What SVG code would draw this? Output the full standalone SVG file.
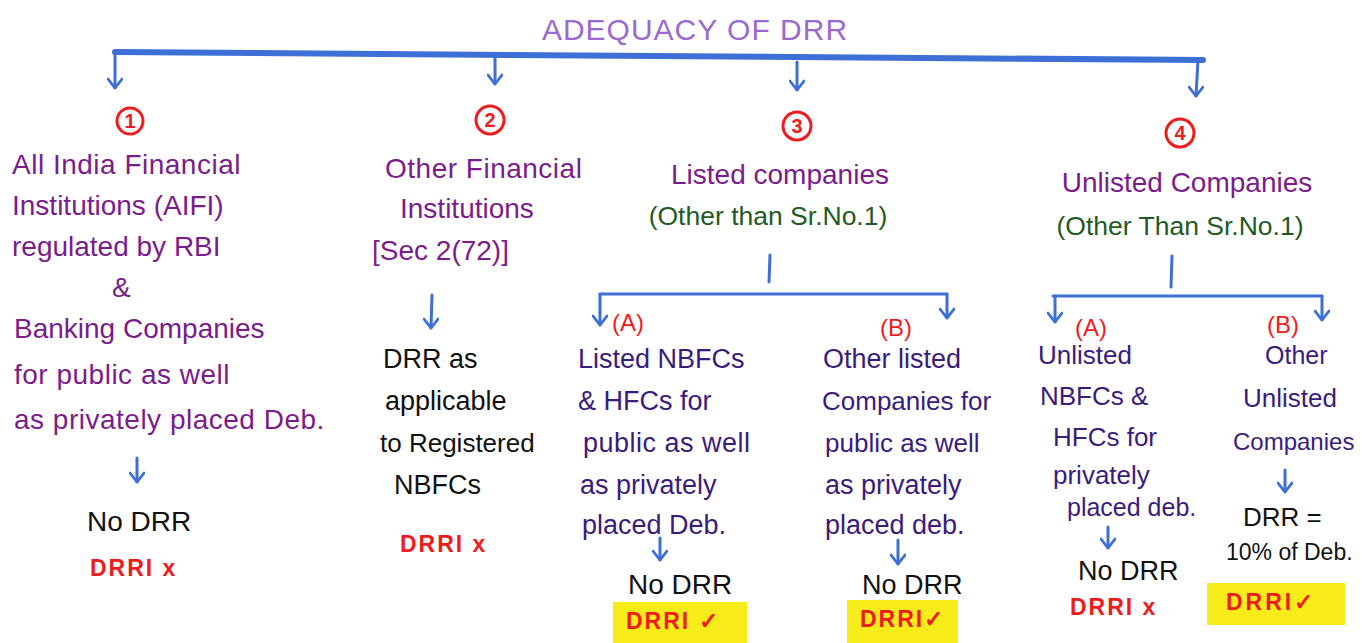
<svg xmlns="http://www.w3.org/2000/svg" width="1362" height="643" viewBox="0 0 1362 643">
<style>
text{font-family:"Liberation Sans",Arial,sans-serif;}
.title{fill:#9a6ad2;font-size:30px;letter-spacing:1px}
.pur{fill:#7a1c8c;font-size:28px}
.ind{fill:#3a1c7e;font-size:27px}
.grn{fill:#1f5a22;font-size:26.5px}
.blk{fill:#111;font-size:27px}
.red{fill:#ee1c1c;font-size:23px;font-weight:bold;letter-spacing:2px}
.lab{fill:#ee1c1c;font-size:24px}
.num{fill:#ee1c1c;font-size:20px;font-weight:bold;text-anchor:middle}
.circ{fill:none;stroke:#ee1c1c;stroke-width:3}
.con{fill:none;stroke:#3d6fd6;stroke-width:3;stroke-linecap:round}
.bar{fill:none;stroke:#3d6fd6;stroke-width:6;stroke-linecap:round}
.hl{fill:#f7ec1a}
</style>
<defs>
<marker id="ahd" viewBox="0 0 16 12" refX="8" refY="11" markerWidth="16" markerHeight="12" markerUnits="userSpaceOnUse" orient="0">
<polyline points="1,2 8,11 15,2" fill="none" stroke="#3d6fd6" stroke-width="2.8" stroke-linecap="round"/>
</marker>
</defs>

<g id="title">
<text class="title" x="695" y="40" text-anchor="middle">ADEQUACY OF DRR</text>
</g>

<g id="connectors">
<path class="bar" d="M115,52 L1203,60"/>
<path class="con" d="M115,52 L115,88" marker-end="url(#ahd)"/>
<path class="con" d="M495,55 L495,84" marker-end="url(#ahd)"/>
<path class="con" d="M797,62 L797,90" marker-end="url(#ahd)"/>
<path class="con" d="M1198,60 L1196,96" marker-end="url(#ahd)"/>
<path class="con" d="M137,458 L137,482" marker-end="url(#ahd)"/>
<path class="con" d="M432,295 L431,328" marker-end="url(#ahd)"/>
<path class="con" d="M770,255 L769,282"/>
<path class="con" d="M600,294 L947,294"/>
<path class="con" d="M600,294 L600,325" marker-end="url(#ahd)"/>
<path class="con" d="M947,294 L947,318" marker-end="url(#ahd)"/>
<path class="con" d="M660,538 L660,560" marker-end="url(#ahd)"/>
<path class="con" d="M898,540 L898,564" marker-end="url(#ahd)"/>
<path class="con" d="M1172,256 L1171,287"/>
<path class="con" d="M1053,296 L1322,296"/>
<path class="con" d="M1055,296 L1055,322" marker-end="url(#ahd)"/>
<path class="con" d="M1322,296 L1322,320" marker-end="url(#ahd)"/>
<path class="con" d="M1108,527 L1108,548" marker-end="url(#ahd)"/>
<path class="con" d="M1285,470 L1285,492" marker-end="url(#ahd)"/>
</g>

<g id="node1">
<circle class="circ" cx="130" cy="121" r="13"/>
<text class="num" x="130" y="128">1</text>
<text class="pur" x="12" y="174" style="letter-spacing:0.5px">All India Financial</text>
<text class="pur" x="12" y="215">Institutions (AIFI)</text>
<text class="pur" x="12" y="256">regulated by RBI</text>
<text class="pur" x="112" y="297">&amp;</text>
<text class="pur" x="14" y="338">Banking Companies</text>
<text class="pur" x="14" y="384" style="letter-spacing:0.5px">for public as well</text>
<text class="pur" x="14" y="429" style="letter-spacing:0.5px">as privately placed Deb.</text>
<text class="blk" x="87" y="531" style="font-size:28px">No DRR</text>
<text class="red" x="90" y="576">DRRI x</text>
</g>

<g id="node2">
<circle class="circ" cx="490" cy="120" r="14"/>
<text class="num" x="490" y="127">2</text>
<text class="pur" x="385" y="178" style="letter-spacing:0.5px">Other Financial</text>
<text class="pur" x="400" y="218">Institutions</text>
<text class="pur" x="372" y="260">[Sec 2(72)]</text>
<text class="blk" x="383" y="368">DRR as</text>
<text class="blk" x="385" y="410">applicable</text>
<text class="blk" x="380" y="452" style="font-size:26px">to Registered</text>
<text class="blk" x="394" y="494">NBFCs</text>
<text class="red" x="400" y="552">DRRI x</text>
</g>

<g id="node3">
<circle class="circ" cx="797" cy="126" r="14"/>
<text class="num" x="797" y="133">3</text>
<text class="pur" x="780" y="184" text-anchor="middle">Listed companies</text>
<text class="grn" x="768" y="225" text-anchor="middle">(Other than Sr.No.1)</text>
</g>

<g id="node3a">
<text class="lab" x="612" y="331">(A)</text>
<text class="ind" x="578" y="368">Listed NBFCs</text>
<text class="ind" x="578" y="410">&amp; HFCs for</text>
<text class="ind" x="583" y="452" style="letter-spacing:0.5px">public as well</text>
<text class="ind" x="580" y="494">as privately</text>
<text class="ind" x="582" y="534">placed Deb.</text>
<text class="blk" x="628" y="594" style="font-size:28px">No DRR</text>
<rect class="hl" x="613" y="602" width="134" height="41"/>
<text class="red" x="626" y="629">DRRI ✓</text>
</g>

<g id="node3b">
<text class="lab" x="880" y="336">(B)</text>
<text class="ind" x="823" y="368">Other listed</text>
<text class="ind" x="822" y="410" style="font-size:26px">Companies for</text>
<text class="ind" x="825" y="452" style="font-size:26px">public as well</text>
<text class="ind" x="825" y="494">as privately</text>
<text class="ind" x="825" y="534">placed deb.</text>
<text class="blk" x="862" y="594">No DRR</text>
<rect class="hl" x="847" y="600" width="111" height="43"/>
<text class="red" x="860" y="627">DRRI✓</text>
</g>

<g id="node4">
<circle class="circ" cx="1180" cy="133" r="14"/>
<text class="num" x="1180" y="140">4</text>
<text class="pur" x="1187" y="192" text-anchor="middle">Unlisted Companies</text>
<text class="grn" x="1180" y="235" text-anchor="middle">(Other Than Sr.No.1)</text>
</g>

<g id="node4a">
<text class="lab" x="1075" y="336">(A)</text>
<text class="ind" x="1038" y="364" style="font-size:26px">Unlisted</text>
<text class="ind" x="1040" y="405" style="font-size:26px">NBFCs &amp;</text>
<text class="ind" x="1053" y="446" style="font-size:26px">HFCs for</text>
<text class="ind" x="1053" y="484" style="font-size:26px">privately</text>
<text class="ind" x="1067" y="516" style="font-size:25px">placed deb.</text>
<text class="blk" x="1078" y="580">No DRR</text>
<text class="red" x="1070" y="615">DRRI x</text>
</g>

<g id="node4b">
<text class="lab" x="1267" y="333">(B)</text>
<text class="ind" x="1265" y="364" style="font-size:25px">Other</text>
<text class="ind" x="1243" y="407" style="font-size:26px">Unlisted</text>
<text class="ind" x="1233" y="450" style="font-size:24px">Companies</text>
<text class="blk" x="1243" y="526" style="font-size:26px">DRR =</text>
<text class="blk" x="1226" y="560" style="font-size:23px">10% of Deb.</text>
<rect class="hl" x="1207" y="583" width="138" height="42"/>
<text class="red" x="1226" y="610" style="letter-spacing:3px">DRRI✓</text>
</g>
</svg>
